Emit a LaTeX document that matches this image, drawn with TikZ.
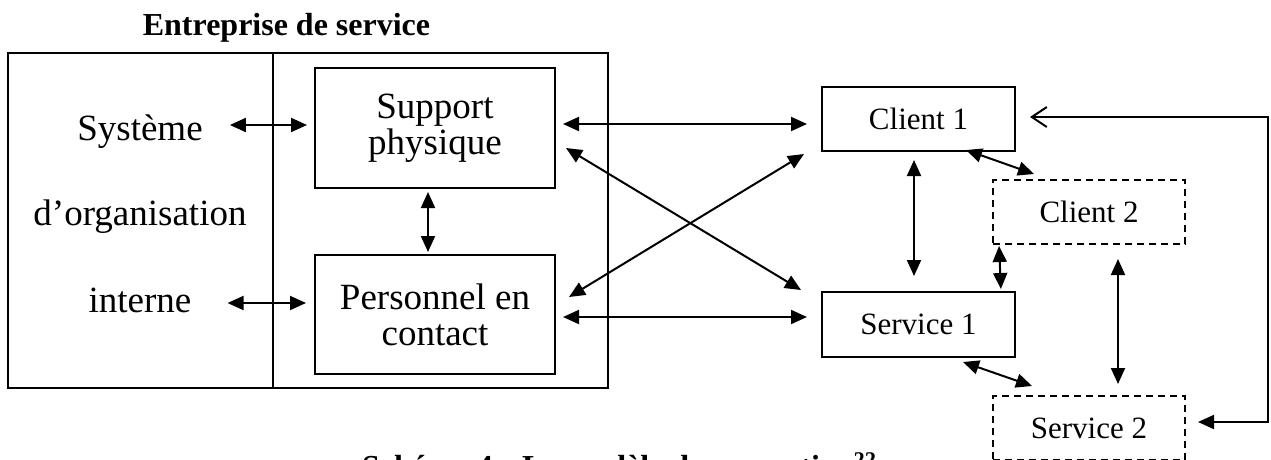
\documentclass[tikz,border=0pt]{standalone}
\usepackage{fontspec}
\setmainfont{Liberation Serif}
\usetikzlibrary{arrows.meta}

\tikzset{
  boite/.style={draw, line width=2pt, inner sep=0pt, align=center},
  grand/.style={font=\fontsize{37}{36}\selectfont},
  petit/.style={font=\fontsize{31}{31}\selectfont},
  gras/.style={font=\fontsize{32}{32}\selectfont\bfseries, inner sep=0pt},
  etiq/.style={grand, anchor=base, inner sep=0pt},
  pointille/.style={dash pattern=on 7pt off 5pt},
  fleche/.style={line width=2pt, <->},
}

\begin{document}
\begin{tikzpicture}[x=1pt, y=-1pt, >={Triangle[length=16pt,width=14pt]}]
  \useasboundingbox (0,0) rectangle (1271,459);

  % Cadre de l'entreprise
  \node[gras, anchor=base] (titre) at (286.5,35) {Entreprise de service};
  \draw[line width=2pt] (8,53) rectangle (608,388);
  \draw[line width=2pt] (273,53) -- (273,388);

  % Systeme d'organisation interne
  \node[etiq] (sys) at (140,140) {Système};
  \node[etiq] (org) at (140,225) {d’organisation};
  \node[etiq] (int) at (140,312) {interne};

  % Support physique et personnel
  \node[boite, grand, minimum width=240pt, minimum height=120pt] (sup) at (435,128) {Support\\physique};
  \node[boite, grand, minimum width=240pt, minimum height=119pt] (pers) at (435,314.5) {Personnel en\\contact};

  % Clients et services
  \node[boite, petit, minimum width=193pt, minimum height=64pt] (c1) at (918.5,119) {Client 1};
  \node[boite, petit, minimum width=193pt, minimum height=65pt] (s1) at (918.5,324.5) {Service 1};
  \node[boite, petit, pointille, minimum width=192pt, minimum height=64pt] (c2) at (1089,212) {Client 2};
  \node[boite, petit, pointille, minimum width=192pt, minimum height=64pt] (s2) at (1089,428) {Service 2};

  % Liens internes
  \draw[fleche, shorten <=27pt, shorten >=7pt] ([yshift=15pt]sys.base east) -- ([yshift=3pt]sup.west);
  \draw[fleche, shorten <=36pt, shorten >=8pt] ([yshift=9pt]int.base east) -- ([yshift=11.5pt]pers.west);
  \draw[fleche, shorten <=3pt, shorten >=2pt] ([xshift=-7pt]sup.south) -- ([xshift=-7pt]pers.north);

  % Liens vers les clients et services
  \draw[fleche, shorten <=7pt, shorten >=14pt] ([yshift=4pt]sup.east) -- ([yshift=-5pt]c1.west);
  \draw[fleche, shorten <=7pt, shorten >=14pt] ([yshift=-2.5pt]pers.east) -- ([yshift=7.5pt]s1.west);
  \draw[fleche] ([xshift=10pt,yshift=-20pt]sup.east) -- ([xshift=-20pt,yshift=34.5pt]s1.west);
  \draw[fleche] ([xshift=13pt,yshift=17.5pt]pers.east) -- ([xshift=-17pt,yshift=-35pt]c1.west);

  % Liens entre clients et services
  \draw[fleche, shorten <=8pt, shorten >=15pt] ([xshift=-4.5pt]c1.south) -- ([xshift=-4.5pt]s1.north);
  \draw[fleche] ([xshift=-50pt,yshift=2pt]c1.south east) -- ([xshift=42pt,yshift=5pt]c2.north west);
  \draw[fleche, shorten <=1pt, shorten >=2pt] ([xshift=7pt]c2.south west) -- ([xshift=-15pt]s1.north east);
  \draw[fleche] ([xshift=-53pt,yshift=-4pt]s1.south east) -- ([xshift=40pt,yshift=9pt]s2.north west);
  \draw[fleche, shorten <=14pt, shorten >=11pt] ([xshift=29pt]c2.south) -- ([xshift=29pt]s2.north);

  % Boucle de retour
  \coordinate (retour) at (1268,0);
  \coordinate (s2r) at ([yshift=6pt]s2.east);
  \coordinate (c1r) at ([yshift=2pt]c1.east);
  \draw[line width=2pt, <-{Straight Barb[length=15pt,width=20pt]}, shorten <=12pt, shorten >=14pt]
    (s2r) -- (s2r -| retour) |- (c1r);

  % Legende
  \node[gras, anchor=base west] (legende) at (362,477) {Schéma 4 : Le modèle de servuction\textsuperscript{22}};
\end{tikzpicture}
\end{document}
